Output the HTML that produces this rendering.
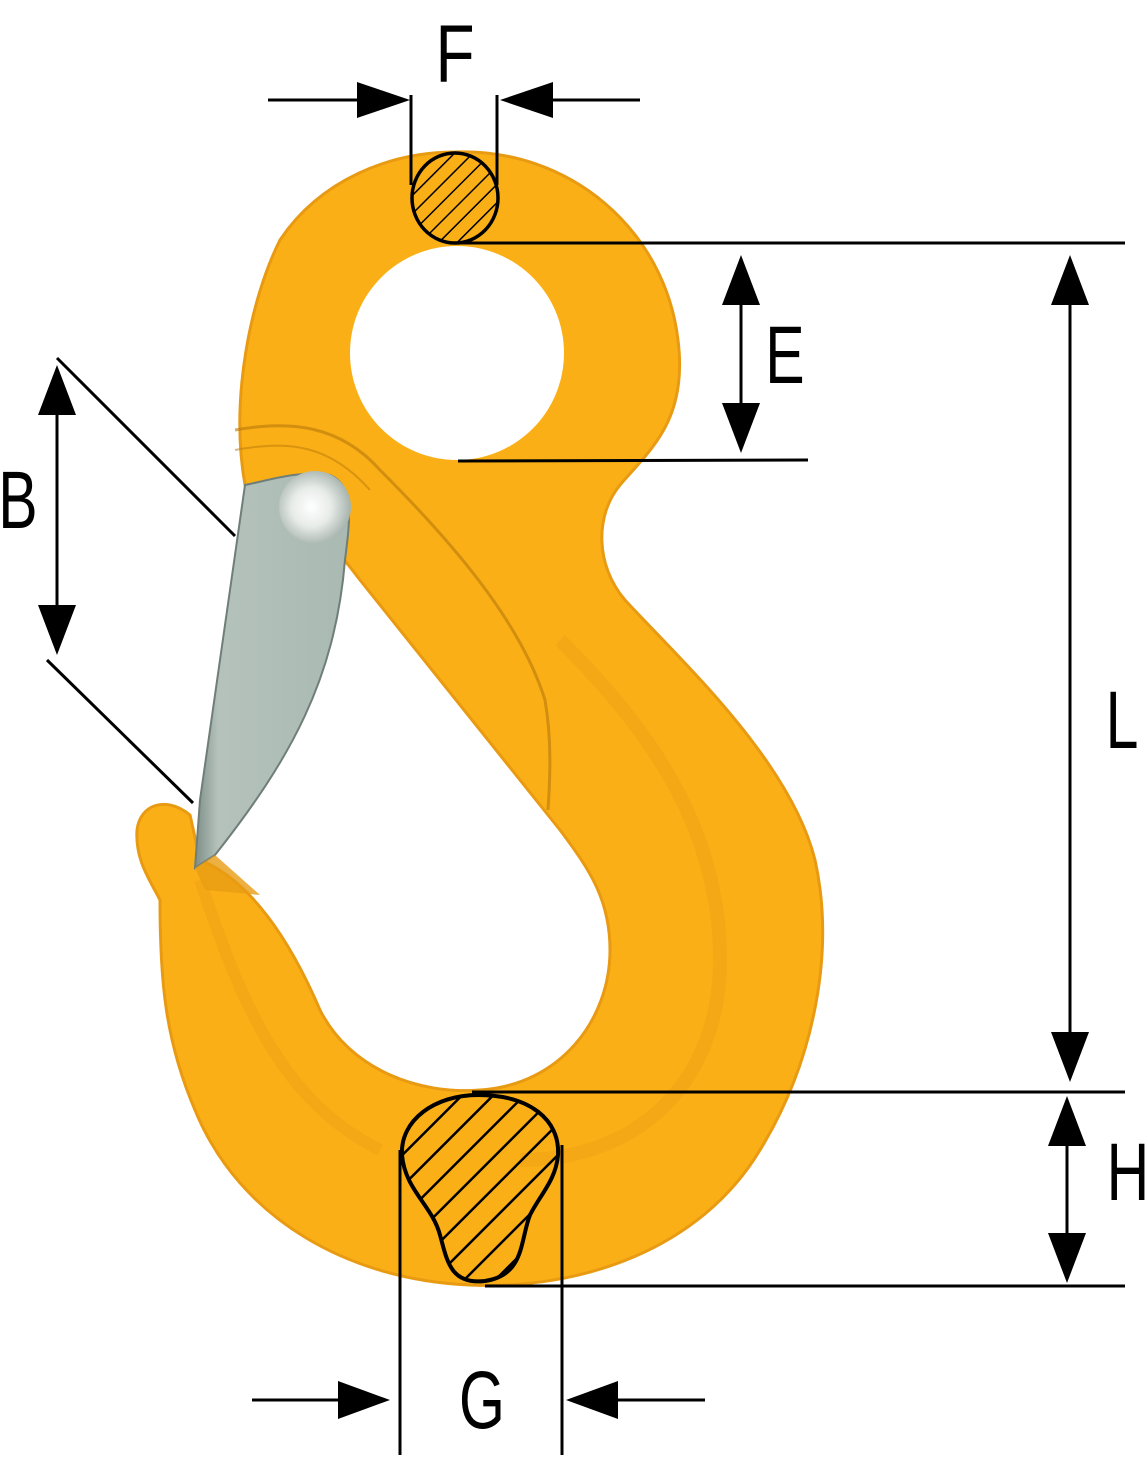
<!DOCTYPE html>
<html><head><meta charset="utf-8"><style>
html,body{margin:0;padding:0;background:#fff;}
svg{display:block;}
text{font-family:"Liberation Sans",sans-serif;fill:#000;}
</style></head><body>
<svg width="1146" height="1457" viewBox="0 0 1146 1457" xmlns="http://www.w3.org/2000/svg">
<defs>
<pattern id="hat" width="22" height="22" patternUnits="userSpaceOnUse" patternTransform="rotate(45)">
<line x1="0" y1="0" x2="0" y2="22" stroke="#000" stroke-width="5"/>
</pattern>
<pattern id="hat2" width="13" height="13" patternUnits="userSpaceOnUse" patternTransform="rotate(45)">
<line x1="0" y1="0" x2="0" y2="13" stroke="#000" stroke-width="3"/>
</pattern>
<radialGradient id="ball" cx="0.45" cy="0.5" r="0.6">
<stop offset="0" stop-color="#ffffff"/><stop offset="0.45" stop-color="#e8ece9"/><stop offset="1" stop-color="#9aa8a2"/>
</radialGradient>
<linearGradient id="latch" x1="0" y1="0" x2="1" y2="0">
<stop offset="0" stop-color="#7f8e88"/><stop offset="0.15" stop-color="#b4c2bb"/><stop offset="1" stop-color="#a9bab2"/>
</linearGradient>
</defs>

<path d="M 455 152 C 570 148 665 230 678 340 C 688 420 650 450 620 485 C 595 515 595 565 625 600 C 680 660 790 760 815 860 C 835 950 815 1060 760 1150 C 700 1250 580 1290 470 1285 C 350 1280 240 1220 195 1110 C 165 1040 160 980 160 900 C 150 880 135 860 137 830 C 140 805 165 795 190 815 L 200 860 C 250 880 290 940 320 1010 C 350 1070 420 1095 480 1090 C 560 1085 610 1020 610 950 C 610 900 590 870 560 830 L 360 580 C 330 540 300 510 290 490 L 245 485 C 230 400 250 300 280 240 C 320 180 390 152 455 152 Z" fill="#fbaf17" stroke="#e89b12" stroke-width="3"/>
<path d="M 235 430 C 290 420 340 425 380 470 C 450 540 520 620 545 700 C 552 740 550 780 548 810" fill="none" stroke="#b87808" stroke-width="3" opacity="0.6"/>
<path d="M 235 450 C 290 440 330 445 370 490" fill="none" stroke="#b87808" stroke-width="2" opacity="0.5"/>
<path d="M 560 640 C 640 720 720 820 720 960 C 720 1080 640 1160 520 1160" fill="none" stroke="#e99a10" stroke-width="14" opacity="0.35"/>
<path d="M 200 880 C 240 1000 280 1100 380 1150" fill="none" stroke="#e99a10" stroke-width="12" opacity="0.35"/>
<circle cx="457" cy="353" r="107" fill="#fff"/>

<path d="M 245 485 C 270 480 300 470 330 475 C 355 485 350 520 345 560 C 335 680 290 760 215 855 L 195 868 L 200 800 Z" fill="url(#latch)" stroke="#6f7e78" stroke-width="2"/>
<circle cx="315" cy="507" r="36" fill="url(#ball)"/>
<path d="M 195 868 L 215 855 L 260 895 L 205 890 Z" fill="#e99c13" opacity="0.8"/>

<ellipse cx="455" cy="198" rx="43" ry="45" fill="url(#hat2)" stroke="#000" stroke-width="3.5"/>
<path d="M 478 1095 C 530 1095 560 1120 558 1155 C 556 1180 540 1195 530 1215 C 520 1240 525 1275 485 1281 C 450 1285 447 1260 440 1235 C 432 1205 405 1190 402 1155 C 400 1120 435 1095 478 1095 Z" fill="url(#hat)" stroke="#000" stroke-width="4"/>

<g stroke="#000" stroke-width="3" fill="none">
<line x1="268" y1="100" x2="360" y2="100"/><line x1="550" y1="100" x2="640" y2="100"/>
<line x1="411" y1="95" x2="411" y2="185"/><line x1="497" y1="95" x2="497" y2="185"/>
<line x1="455" y1="243" x2="1125" y2="243"/>
<line x1="458" y1="461" x2="808" y2="460"/>
<line x1="741" y1="300" x2="741" y2="410"/>
<line x1="1070" y1="300" x2="1070" y2="1040"/>
<line x1="472" y1="1092" x2="1125" y2="1092"/>
<line x1="485" y1="1286" x2="1125" y2="1286"/>
<line x1="1067" y1="1140" x2="1067" y2="1240"/>
<line x1="57" y1="410" x2="57" y2="610"/>
<line x1="57" y1="358" x2="235" y2="536"/>
<line x1="47" y1="660" x2="193" y2="803"/>
<line x1="400" y1="1150" x2="400" y2="1455"/><line x1="562" y1="1145" x2="562" y2="1455"/>
<line x1="252" y1="1400" x2="340" y2="1400"/><line x1="615" y1="1400" x2="705" y2="1400"/>
</g>
<g fill="#000">
<polygon points="410,100 357,82 357,118"/>
<polygon points="500,100 553,82 553,118"/>
<polygon points="741,255 722,305 760,305"/>
<polygon points="741,453 722,403 760,403"/>
<polygon points="1070,255 1051,305 1089,305"/>
<polygon points="1070,1082 1051,1032 1089,1032"/>
<polygon points="1067,1096 1048,1146 1086,1146"/>
<polygon points="1067,1283 1048,1233 1086,1233"/>
<polygon points="57,365 38,415 76,415"/>
<polygon points="57,655 38,605 76,605"/>
<polygon points="390,1400 338,1381 338,1419"/>
<polygon points="566,1400 618,1381 618,1419"/>
</g>
<g font-size="82">
<text transform="translate(455,82) scale(0.78,1)" text-anchor="middle">F</text>
<text transform="translate(785,383) scale(0.72,1)" text-anchor="middle">E</text>
<text transform="translate(1122,748) scale(0.72,1)" text-anchor="middle">L</text>
<text transform="translate(1128,1200) scale(0.72,1)" text-anchor="middle">H</text>
<text transform="translate(18,528) scale(0.72,1)" text-anchor="middle">B</text>
<text transform="translate(482,1428) scale(0.72,1)" text-anchor="middle">G</text>
</g>
</svg>
</body></html>
